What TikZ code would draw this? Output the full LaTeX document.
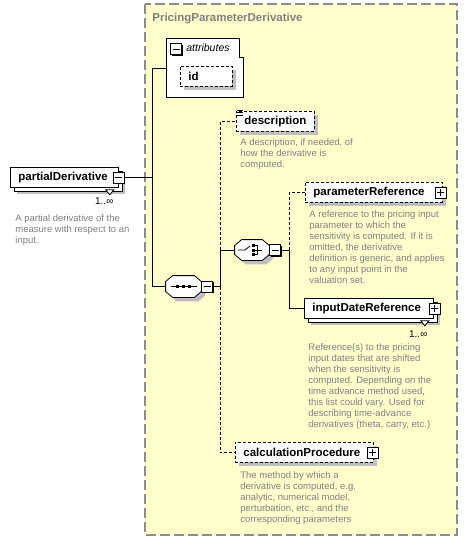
\documentclass[tikz,border=0pt]{standalone}
\usepackage{fontspec}
\setmainfont{Liberation Sans}
\usetikzlibrary{shapes.misc, shadows}
\usetikzlibrary{calc}
\usetikzlibrary {positioning}
\hyphenpenalty=10000

\definecolor{groupfill}{RGB}{255,255,204}
\definecolor{notegray}{RGB}{128,128,128}

% octagon outline of a compositor node
\newcommand\compoframe[1]{%
    \draw[fill=white, drop shadow={shadow xshift=4pt, shadow yshift=-4pt, fill=black!25, opacity=1}]
        ([xshift=7pt]#1.north west) -- ([xshift=-7pt]#1.north east) -- ([yshift=-6pt]#1.north east)
        -- ([yshift=6pt]#1.south east) -- ([xshift=-7pt]#1.south east) -- ([xshift=7pt]#1.south west)
        -- ([yshift=6pt]#1.south west) -- ([yshift=-6pt]#1.north west) -- cycle;}

\begin{document}
\begin{tikzpicture}[x=1pt, y=-1pt, line width=0.8pt,
    elem/.style={draw, fill=white, anchor=north west, minimum height=20pt,
        inner xsep=8pt, inner ysep=0pt, align=left,
        font=\fontsize{11.5}{13}\selectfont\bfseries,
        drop shadow={shadow xshift=4pt, shadow yshift=-4pt, fill=black!25, opacity=1}},
    optional/.style={dash pattern=on 3pt off 2pt},
    multi/.style={drop shadow={shadow xshift=7pt, shadow yshift=-7pt, fill=black!25, opacity=1},
        copy shadow={shadow xshift=4pt, shadow yshift=-4pt, draw=black, fill=white}},
    pmbox/.style={draw, fill=white, minimum size=11pt, inner sep=0pt,
        drop shadow={shadow xshift=1pt, shadow yshift=-1pt, fill=black, opacity=1}},
    minusbox/.style={pmbox, path picture={
        \draw ([xshift=-3.5pt]path picture bounding box.center) -- ([xshift=3.5pt]path picture bounding box.center);}},
    plusbox/.style={pmbox, path picture={
        \draw ([xshift=-3.5pt]path picture bounding box.center) -- ([xshift=3.5pt]path picture bounding box.center);
        \draw ([yshift=-3.5pt]path picture bounding box.center) -- ([yshift=3.5pt]path picture bounding box.center);}},
    compo/.style={rectangle, minimum width=35pt, minimum height=21pt, inner sep=0pt},
    note/.style={anchor=north west, align=left, inner sep=0pt, text=notegray,
        font=\fontsize{9.5}{11}\selectfont},
    mult/.style={anchor=north east, inner sep=0pt, font=\fontsize{10}{12}\selectfont}]

    \useasboundingbox (0,0) rectangle (468,541);

    % group of the complex type
    \draw[fill=groupfill, draw=black!45, line width=1.2pt, dash pattern=on 10pt off 4pt]
        (145,4) rectangle (457,535);
    \node[anchor=west, inner sep=0pt, text=notegray, font=\fontsize{11.5}{13}\selectfont\bfseries]
        (title) at (152,19) {PricingParameterDerivative};

    % attributes
    \node[anchor=north west, minimum width=77pt, minimum height=59pt, inner sep=0pt] (attr) at (166,38) {};
    \draw[fill=white] (attr.north west) -- ++(73,0) -- ++(0,19) -- ++(4,0) |- (attr.south west) -- cycle;
    \node[minusbox] (attrm) at (176,49) {};
    \node[anchor=west, inner sep=0pt, font=\fontsize{10.5}{12}\selectfont\itshape] (attrt) at (186,48) {attributes};
    \node[elem, optional, text width=36pt] (id) at (180,66) {id};

    % root element
    \node[elem, multi, text width=92pt] (pd) at (10,167) {partialDerivative};
    \node[minusbox] (pdm) at (pd.east) {};
    \draw[fill=white] ([shift={(-13,2)}]pd.south east) -- ++(8,0) -- ++(-4,5) -- cycle;
    \node[mult] (pdn) at ([shift={(-5,9)}]pd.south east) {1..∞};
    \node[note] (pdnote) at (15,214.5) {A partial derivative of the\\measure with respect to an\\input.};

    % compositors
    \node[compo] (seq) at (183.5,286.5) {};
    \compoframe{seq}
    \node[minusbox, anchor=west] (seqm) at (seq.east) {};
    \draw ([xshift=-13pt]seq.center) -- ([xshift=13pt]seq.center);
    \foreach \dx in {-6,0,6}
        \fill[shift={(seq.center)}] (\dx-1.5,-1.5) rectangle ++(3,3);

    \node[compo, minimum width=34pt, minimum height=20pt] (choice) at (252,250) {};
    \compoframe{choice}
    \node[minusbox, anchor=west] (choicem) at (choice.east) {};
    \begin{scope}[shift={(choice.center)}]
        \draw (-14,0) -- (-7,0) -- (-2,-4);
        \foreach \dy in {-4.5,0,4.5}
            \fill (0,\dy-1.5) rectangle ++(3,3);
        \draw (3,-4.5) -| (5,4.5) -- (3,4.5);
        \draw (3,0) -- (10,0);
    \end{scope}

    % child elements
    \node[elem, optional, text width=62pt] (desc) at (236,111) {description};
    \foreach \dy in {-1,1.5,4}
        \draw[line width=0.6pt] ([shift={(1,\dy)}]desc.north west) -- ++(6,0);
    \node[note] (descnote) at (240,138.7) {A description, if needed, of\\how the derivative is\\computed.};

    \node[elem, optional, text width=121pt] (pr) at (305,182) {parameterReference};
    \node[plusbox] (prp) at ([xshift=-2pt]pr.east) {};
    \node[note] (prnote) at (309,210.7) {A reference to the pricing input\\parameter to which the\\sensitivity is computed. If it is\\omitted, the derivative\\definition is generic, and applies\\to any input point in the\\valuation set.};

    \node[elem, multi, text width=113pt] (idr) at (304,298) {inputDateReference};
    \node[plusbox] (idrp) at ([xshift=1pt]idr.east) {};
    \draw[fill=white] ([shift={(-13,2)}]idr.south east) -- ++(8,0) -- ++(-4,5) -- cycle;
    \node[mult] (idrn) at ([shift={(-6,11)}]idr.south east) {1..∞};
    \node[note] (idrnote) at (308,343.7) {Reference(s) to the pricing\\input dates that are shifted\\when the sensitivity is\\computed. Depending on the\\time advance method used,\\this list could vary. Used for\\describing time-advance\\derivatives (theta, carry, etc.)};

    \node[elem, optional, text width=122pt] (calc) at (235,442) {calculationProcedure};
    \node[plusbox] (calcp) at ([xshift=-1pt]calc.east) {};
    \node[note] (calcnote) at (240,471) {The method by which a\\derivative is computed, e.g.\\analytic, numerical model,\\perturbation, etc., and the\\corresponding parameters};

    % connectors
    \coordinate (spine) at (152,0);
    \draw (attr.west) -- (attr.west -| spine) |- (seq.west);
    \draw (pdm.east) -- (pdm.east -| spine);

    \coordinate (seqj) at ($(seqm.east)+(7,0)$);
    \draw (seqm.east) -- (seqj);
    \draw (seqj) |- (choice.west);
    \draw[optional] (seqj |- choice.west) |- (desc.west);
    \draw[optional] (seqj) |- (calc.west);

    \coordinate (choicej) at ($(choicem.east)+(8,0)$);
    \draw (choicem.east) -- (choicej);
    \draw[optional] (choicej) |- (pr.west);
    \draw (choicej) |- (idr.west);

\end{tikzpicture}
\end{document}
